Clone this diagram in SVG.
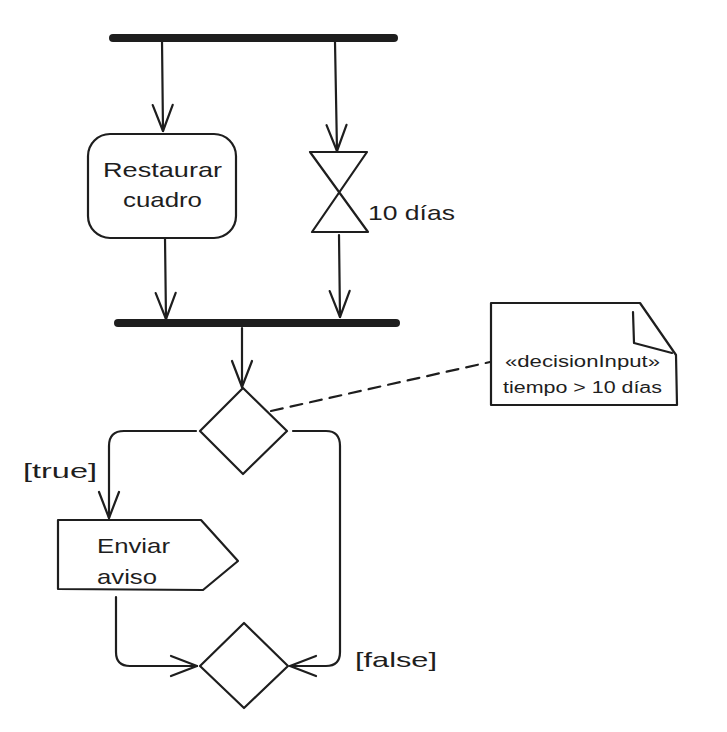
<svg xmlns="http://www.w3.org/2000/svg" width="727" height="732" viewBox="0 0 727 732">
<style>
.s{fill:none;stroke:#1e1e1e;stroke-width:2.2;stroke-linecap:round;stroke-linejoin:round}
.n{fill:#fff;stroke:#1e1e1e;stroke-width:2.2;stroke-linejoin:round}
.bar{stroke:#1e1e1e;stroke-width:8;stroke-linecap:round}
.t{font-family:"Liberation Sans",Arial,sans-serif;fill:#1e1e1e;font-size:21px}
.ts{font-family:"Liberation Sans",Arial,sans-serif;fill:#1e1e1e;font-size:16px}
</style>
<defs>
<marker id="a" markerUnits="userSpaceOnUse" markerWidth="40" markerHeight="40" viewBox="-30 -20 40 40" refX="0" refY="0" orient="auto">
<path d="M-26,-10 L0,0 L-26,10" fill="none" stroke="#1e1e1e" stroke-width="2.2" stroke-linecap="round" stroke-linejoin="round"/>
</marker>
</defs>
<g id="connectors">
<path class="s" d="M162,40 L163,131" marker-end="url(#a)"/>
<path class="s" d="M335,42 L337,151" marker-end="url(#a)"/>
<path class="s" d="M165,238 L166,319" marker-end="url(#a)"/>
<path class="s" d="M339,235 L340,317" marker-end="url(#a)"/>
<path class="s" d="M242,328 L242,387" marker-end="url(#a)"/>
<path class="s" d="M196,431 L124,431 Q109,431 109,446 L109,518" marker-end="url(#a)"/>
<path class="s" d="M293,431 L326,431 Q340,431 340,446 L340,652 Q340,666 326,666 L290,666" marker-end="url(#a)"/>
<path class="s" d="M116,597 L116,652 Q116,666 130,666 L197,666" marker-end="url(#a)"/>
<path class="s" d="M271,411 L490,362" stroke-dasharray="12 8"/>
</g>
<g id="fork1"><line class="bar" x1="113" y1="38" x2="394" y2="38"/></g>
<g id="restaurar">
<rect class="n" x="88" y="134" width="148" height="104" rx="22"/>
<text class="t" x="103" y="177" textLength="119" lengthAdjust="spacingAndGlyphs">Restaurar</text>
<text class="t" x="123" y="207" textLength="79" lengthAdjust="spacingAndGlyphs">cuadro</text>
</g>
<g id="timer">
<path class="n" d="M310,152 L367,152 L312,232 L368,232 Z"/>
<text class="t" x="368" y="220" textLength="87" lengthAdjust="spacingAndGlyphs">10 días</text>
</g>
<g id="join1"><line class="bar" x1="118" y1="323" x2="396" y2="323"/></g>
<g id="decision1"><path class="n" d="M243,388 L287,431 L243,474 L200,431 Z"/></g>
<g id="note">
<path class="n" d="M491,303 L640,303 L676,355 L677,405 L491,405 Z"/>
<path class="s" d="M633,312 L634,343 L672,353"/>
<text class="ts" x="505" y="367" textLength="155" lengthAdjust="spacingAndGlyphs">«decisionInput»</text>
<text class="ts" x="503" y="393" textLength="159" lengthAdjust="spacingAndGlyphs">tiempo &gt; 10 días</text>
</g>
<g id="trueLabel"><text class="t" x="23" y="478" textLength="74" lengthAdjust="spacingAndGlyphs">[true]</text></g>
<g id="enviar">
<path class="n" d="M58,520 L201,520 L238,561 L203,590 L58,589 Z"/>
<text class="t" x="97" y="553" textLength="73" lengthAdjust="spacingAndGlyphs">Enviar</text>
<text class="t" x="97" y="584" textLength="60" lengthAdjust="spacingAndGlyphs">aviso</text>
</g>
<g id="decision2"><path class="n" d="M244,623 L288,666 L244,708 L200,666 Z"/></g>
<g id="falseLabel"><text class="t" x="355" y="667" textLength="82" lengthAdjust="spacingAndGlyphs">[false]</text></g>
</svg>
